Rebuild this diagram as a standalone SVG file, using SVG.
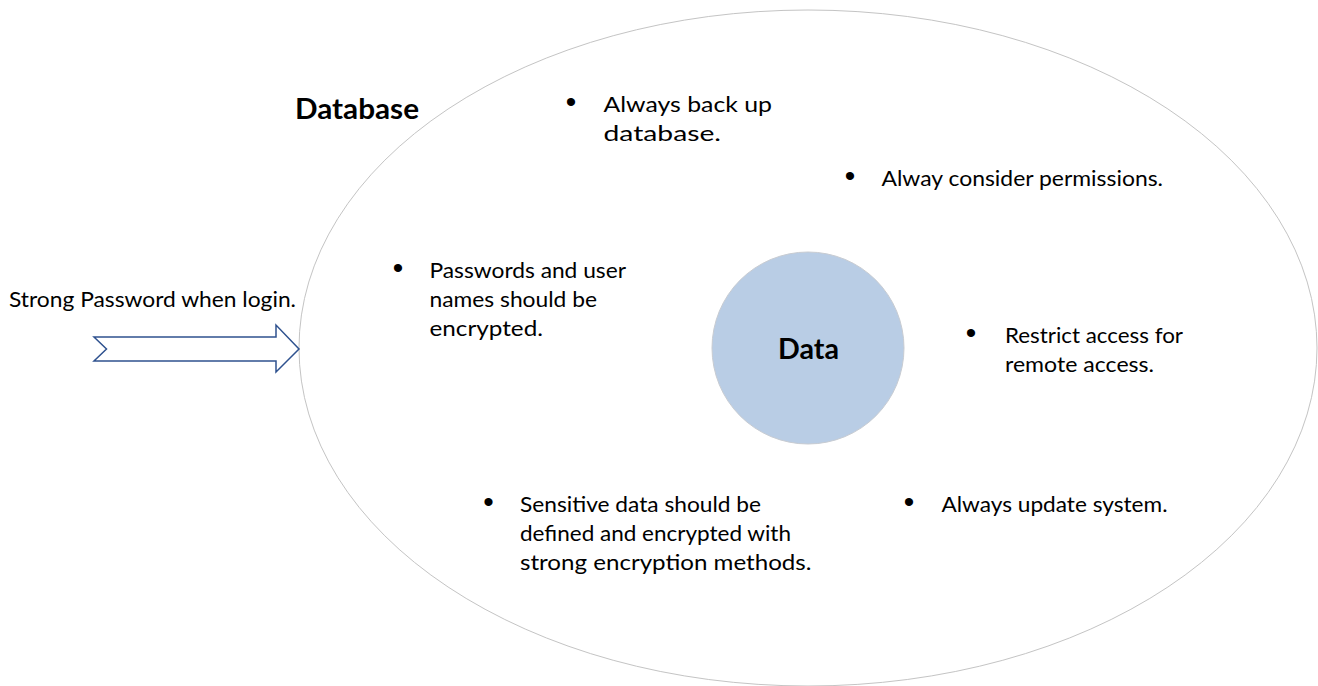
<svg xmlns="http://www.w3.org/2000/svg" width="1318" height="686" viewBox="0 0 1318 686">
<style>
  .t { font-family: Lato, "Liberation Sans", Arial, sans-serif; font-size: 21px; fill: #000; }
  .b { font-family: Lato, "Liberation Sans", Arial, sans-serif; font-size: 28px; font-weight: bold; fill: #000; }
  .bul { font-family: "Liberation Sans", Arial, sans-serif; font-size: 30px; fill: #000; text-anchor: middle; }
  .db { fill: #ffffff; stroke: #c4c4c4; stroke-width: 1; }
  .data { fill: #b9cde5; stroke: #c8ccd2; stroke-width: 1; }
  .arrow { fill: #ffffff; stroke: #2f528f; stroke-width: 1.5; stroke-linejoin: miter; }
</style>
<rect width="1318" height="686" fill="#ffffff"/>
<g id="database">
  <ellipse class="db" cx="808" cy="348" rx="509" ry="338"/>
  <text class="b" x="295" y="119" textLength="124" lengthAdjust="spacingAndGlyphs">Database</text>
</g>
<g id="data">
  <circle class="data" cx="808" cy="348" r="96"/>
  <text class="b" x="778" y="359" textLength="61" lengthAdjust="spacingAndGlyphs">Data</text>
</g>
<g id="connectors">
  <path class="arrow" d="M94,337 L276,337 L276,325 L299,349 L276,372 L276,361 L94,361 L106.5,349 Z"/>
</g>
<g id="login-label">
  <text class="t" x="9" y="306.5" textLength="287" lengthAdjust="spacingAndGlyphs">Strong Password when login.</text>
</g>
<g id="item-backup">
  <text class="bul" x="571" y="111.5">•</text>
  <text class="t" x="603.5" y="111.5" textLength="168.5" lengthAdjust="spacingAndGlyphs">Always back up</text>
  <text class="t" x="603.5" y="140.5" textLength="117.5" lengthAdjust="spacingAndGlyphs">database.</text>
</g>
<g id="item-permissions">
  <text class="bul" x="850" y="186">•</text>
  <text class="t" x="881.5" y="186" textLength="281.5" lengthAdjust="spacingAndGlyphs">Alway consider permissions.</text>
</g>
<g id="item-passwords">
  <text class="bul" x="398" y="277.5">•</text>
  <text class="t" x="429.5" y="277.5" textLength="196.5" lengthAdjust="spacingAndGlyphs">Passwords and user</text>
  <text class="t" x="429.5" y="306.5" textLength="167.5" lengthAdjust="spacingAndGlyphs">names should be</text>
  <text class="t" x="429.5" y="335.5" textLength="113.5" lengthAdjust="spacingAndGlyphs">encrypted.</text>
</g>
<g id="item-remote">
  <text class="bul" x="971" y="343">•</text>
  <text class="t" x="1005" y="343" textLength="178" lengthAdjust="spacingAndGlyphs">Restrict access for</text>
  <text class="t" x="1005" y="372" textLength="149" lengthAdjust="spacingAndGlyphs">remote access.</text>
</g>
<g id="item-sensitive">
  <text class="bul" x="488.5" y="512">•</text>
  <text class="t" x="520" y="512" textLength="241" lengthAdjust="spacingAndGlyphs">Sensitive data should be</text>
  <text class="t" x="520" y="541" textLength="271" lengthAdjust="spacingAndGlyphs">defined and encrypted with</text>
  <text class="t" x="520" y="570" textLength="291.5" lengthAdjust="spacingAndGlyphs">strong encryption methods.</text>
</g>
<g id="item-update">
  <text class="bul" x="909" y="512">•</text>
  <text class="t" x="941.5" y="512" textLength="226" lengthAdjust="spacingAndGlyphs">Always update system.</text>
</g>
</svg>
